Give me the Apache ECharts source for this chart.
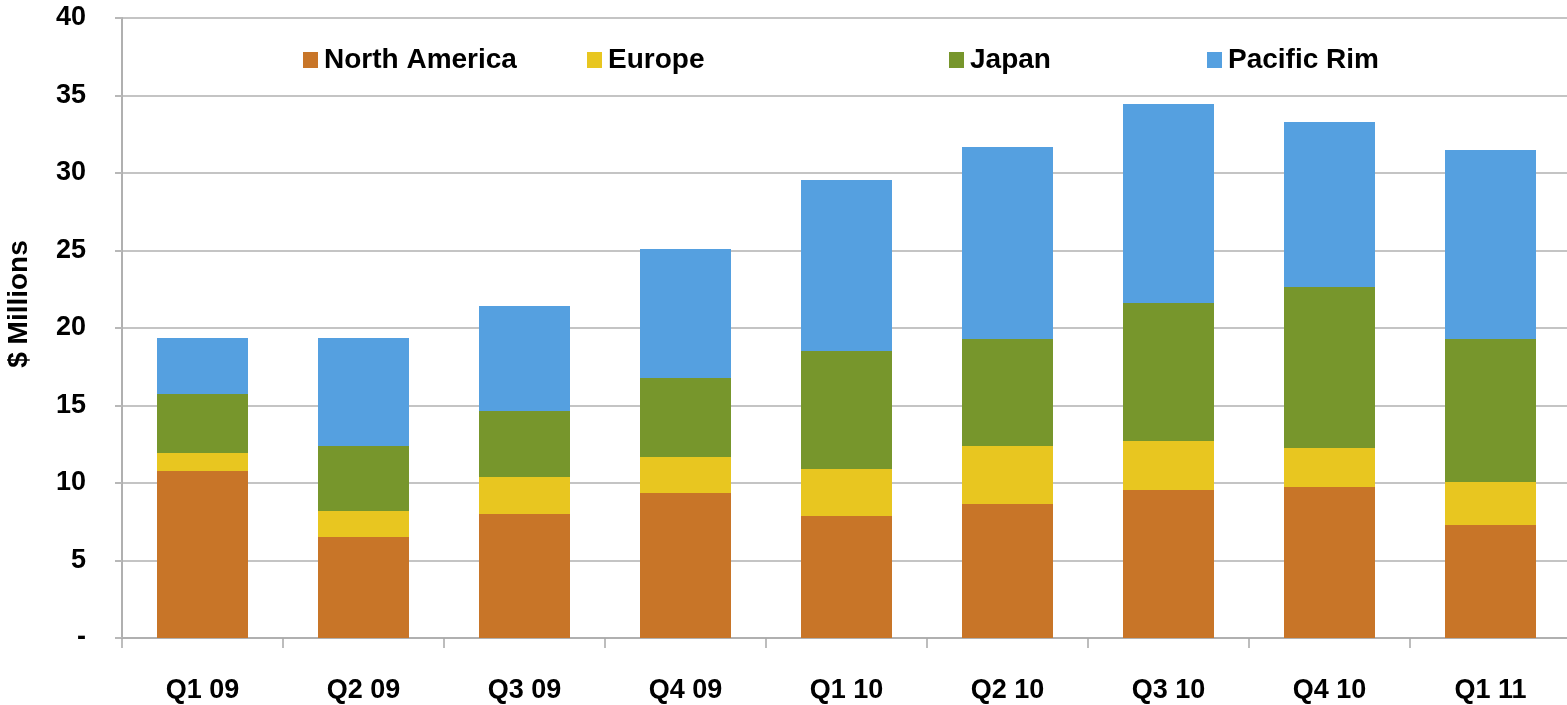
<!DOCTYPE html>
<html>
	<head>
		<meta charset="utf-8" />
		<title>Revenue by Region</title>
		<style>
			html, body { margin: 0; padding: 0; background: #fff; }
			#chartmain { width: 1567px; height: 705px; }
		</style>
	</head>
	<body>
		<div id="chartmain"></div>
		<script type="text/javascript" src="https://cdn.jsdelivr.net/npm/echarts@6/dist/echarts.min.js"></script>
		<script type="text/javascript">
			// data ($ millions)
			var quarters = ['Q1 09', 'Q2 09', 'Q3 09', 'Q4 09', 'Q1 10', 'Q2 10', 'Q3 10', 'Q4 10', 'Q1 11'];
			var northAmerica = [10.77, 6.52, 8.0, 9.35, 7.87, 8.65, 9.55, 9.74, 7.29];
			var europe = [1.17, 1.67, 2.39, 2.33, 3.03, 3.74, 3.16, 2.52, 2.77];
			var japan = [3.8, 4.2, 4.26, 5.09, 7.62, 6.9, 8.9, 10.39, 9.23];
			var pacificRim = [3.61, 6.96, 6.77, 8.33, 11.03, 12.39, 12.84, 10.64, 12.19];

			var names = ['North America', 'Europe', 'Japan', 'Pacific Rim'];
			var colors = ['#C87528', '#E8C620', '#77962C', '#55A0E0'];
			var values = [northAmerica, europe, japan, pacificRim];
			var legendLeft = [298, 582, 944, 1202];

			var font = 'Liberation Sans';

			// one legend per item, the columns are not evenly spaced
			var legends = [];
			for (var i = 0; i < names.length; i++) {
				legends.push({
					left: legendLeft[i],
					top: 41,
					data: [names[i]],
					icon: 'rect',
					itemWidth: 15,
					itemHeight: 16,
					itemGap: 0,
					textStyle: { fontFamily: font, fontWeight: 'bold', fontSize: 28, color: '#000', padding: [0, 0, 0, 1] }
				});
			}

			var series = [];
			for (var i = 0; i < names.length; i++) {
				series.push({
					name: names[i],
					type: 'bar',
					stack: 'total',
					barWidth: 91,
					itemStyle: { color: colors[i] },
					emphasis: { disabled: true },
					data: values[i]
				});
			}

			var option = {
				animation: false,
				color: colors,
				legend: legends,
				grid: { left: 122, right: -4, top: 18, bottom: 67, outerBoundsMode: 'none', containLabel: false },
				xAxis: {
					type: 'category',
					data: quarters,
					axisLine: { lineStyle: { color: '#b0b0b0', width: 2 } },
					axisTick: { show: true, length: 10, lineStyle: { color: '#a8a8a8', width: 1.5 } },
					axisLabel: { margin: 39, fontFamily: font, fontWeight: 'bold', fontSize: 27, color: '#000' }
				},
				yAxis: {
					type: 'value',
					min: 0,
					max: 40,
					interval: 5,
					name: '$ Millions',
					nameLocation: 'middle',
					nameGap: 89,
					// padding on the rotated text nudges it up to where the reference has it
					nameTextStyle: { fontFamily: font, fontWeight: 'bold', fontSize: 28, color: '#000', padding: [0, 0, 0, 48] },
					axisLine: { show: true, lineStyle: { color: '#b0b0b0', width: 2 } },
					axisTick: { show: true, length: 7, lineStyle: { color: '#b8b8b8', width: 2 } },
					splitLine: { lineStyle: { color: '#c4c4c4', width: 2 } },
					axisLabel: {
						margin: 36,
						fontFamily: font, fontWeight: 'bold', fontSize: 27, color: '#000',
						formatter: function (v) { return v === 0 ? '-' : v; }
					}
				},
				series: series
			};

			var myChart = echarts.init(document.getElementById('chartmain'));
			myChart.setOption(option);
		</script>
	</body>
</html>
